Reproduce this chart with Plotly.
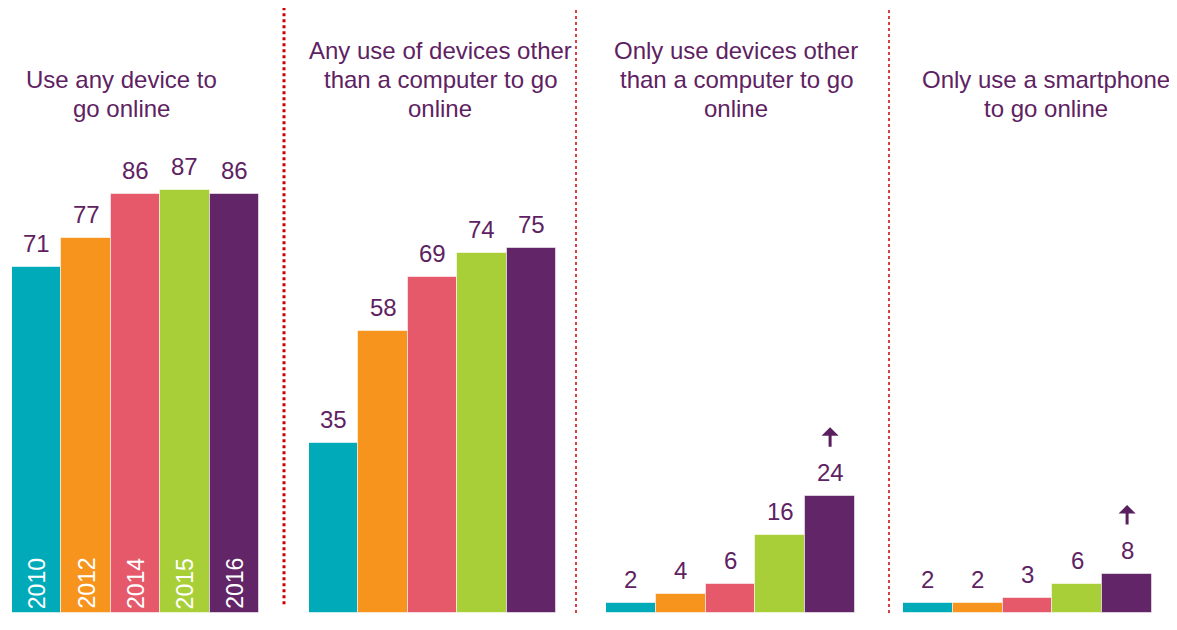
import plotly.graph_objects as go

# ---- data ----
years = ["2010", "2012", "2014", "2015", "2016"]
colors = ["#00AAB9", "#F7941E", "#E5596B", "#A9CF38", "#622567"]
panel_titles = [
    ["Use any device to", "go online"],
    ["Any use of devices other", "than a computer to go", "online"],
    ["Only use devices other", "than a computer to go", "online"],
    ["Only use a smartphone", "to go online"],
]
use_any_device = [71, 77, 86, 87, 86]
any_other_device = [35, 58, 69, 74, 75]
only_other_device = [2, 4, 6, 16, 24]
only_smartphone = [2, 2, 3, 6, 8]
panels = [use_any_device, any_other_device, only_other_device, only_smartphone]
rising = [False, False, True, True]  # up-arrow on 2016 bar

# ---- layout geometry ----
# page body has an 8px margin, so the figure is offset by (8, 8)
OFF = 8
W, H = 1169, 614
BASE = 613 - OFF  # baseline pixel within figure
panel_px = [(12, 259), (309, 556), (606, 855), (903, 1152)]
title_cx = [121, 440, 736, 1046]
TXT = "#5E2262"
FONT = "Arial, Liberation Sans, sans-serif"
YMAX = 124.3
px_per_unit = BASE / YMAX
pos = list(range(len(years)))


def px_x(x):
    return (x - OFF) / W


def px_y(y):
    return 1 - (y - OFF) / H


fig = go.Figure()
annotations = []
shapes = []

for i, vals in enumerate(panels):
    xa = "x" if i == 0 else f"x{i+1}"
    fig.add_trace(go.Bar(
        x=pos, y=vals, xaxis=xa, yaxis="y", width=1.0,
        customdata=years, hovertemplate="%{customdata}: %{y}<extra></extra>",
        marker=dict(color=colors, line=dict(color="rgba(255,255,255,0.55)", width=1)),
        showlegend=False,
    ))
    for k, v in zip(pos, vals):
        annotations.append(dict(
            x=k, y=v, xref=xa, yref="y", text=str(v), showarrow=False,
            yanchor="bottom", yshift=8, font=dict(family=FONT, size=24, color=TXT)))
    if i == 0:
        for k, yr in zip(pos, years):
            annotations.append(dict(
                x=k, y=0, xref=xa, yref="y", text=yr, showarrow=False,
                textangle=-90, yanchor="bottom", yshift=2,
                font=dict(family=FONT, size=23, color="white")))
    if rising[i]:
        v = vals[-1]
        annotations.append(dict(
            x=pos[-1], y=v + 69 / px_per_unit, xref=xa, yref="y",
            ax=pos[-1], ay=v + 48 / px_per_unit, axref=xa, ayref="y",
            text="", showarrow=True, arrowhead=1, arrowsize=0.95,
            arrowwidth=3, arrowcolor="#5A1F5E"))
    lines = panel_titles[i]
    n = len(lines)
    for j, ln in enumerate(lines):
        ypx = 110 - (n - 1 - j) * 29.5
        annotations.append(dict(
            x=px_x(title_cx[i]), y=px_y(ypx), xref="paper", yref="paper",
            text=ln, showarrow=False, xanchor="center", yanchor="middle",
            font=dict(family=FONT, size=24, color=TXT)))

# dotted separators
shapes.append(dict(type="line", xref="paper", yref="paper",
                   x0=px_x(284), x1=px_x(284), y0=px_y(613), y1=1,
                   line=dict(color="#CC0000", width=3, dash="dot")))
for xp in (576, 889):
    shapes.append(dict(type="line", xref="paper", yref="paper",
                       x0=px_x(xp), x1=px_x(xp), y0=0, y1=1,
                       line=dict(color="#D00000", width=1.5, dash="dot")))

layout = dict(
    width=W, height=H, margin=dict(l=0, r=0, t=0, b=H - BASE),
    plot_bgcolor="white", paper_bgcolor="white", bargap=0,
    yaxis=dict(range=[0, YMAX], visible=False, fixedrange=True),
    annotations=annotations, shapes=shapes,
)
for i, (a, b) in enumerate(panel_px):
    key = "xaxis" if i == 0 else f"xaxis{i+1}"
    layout[key] = dict(domain=[px_x(a), px_x(b)], visible=False, anchor="y",
                       range=[-0.5, len(years) - 0.5], fixedrange=True)

fig.update_layout(**layout)
fig.write_html("out.html")
